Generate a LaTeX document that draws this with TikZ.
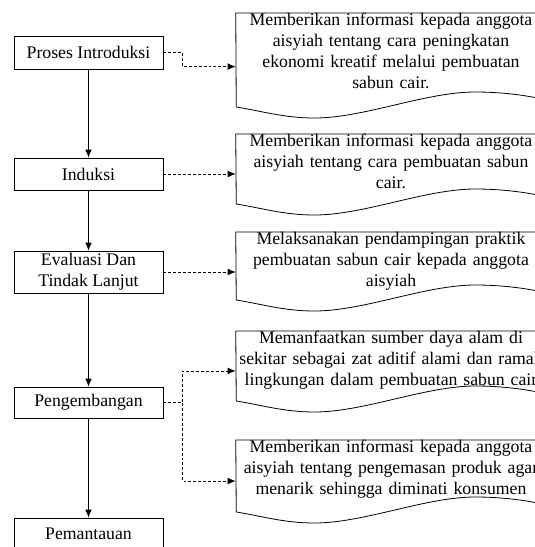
\documentclass[tikz,border=0pt]{standalone}
\usepackage{fontspec}
\setmainfont{Liberation Serif}
\usetikzlibrary{arrows.meta}

\begin{document}
\begin{tikzpicture}[x=0.75pt,y=-0.75pt,
  font=\fontsize{13.3}{15.75}\selectfont,
  stage/.style={draw,line width=0.6pt,minimum width=111.75pt,minimum height=24pt,inner sep=1pt,align=center},
  doc/.style={text width=232.5pt,inner sep=0pt,align=center,anchor=north},
  flow/.style={line width=0.6pt,-{Latex[length=6pt,width=5pt]}},
  link/.style={flow,dash pattern=on 2.2pt off 1.5pt}]
 \useasboundingbox (0,0) rectangle (535,547);
 \clip (0,0) rectangle (535,547);
 % tahapan
 \node[stage,minimum height=24.75pt] (p1) at (88.5,52.5) {Proses Introduksi};
 \node[stage] (p2) at (88.5,174) {Induksi};
 \node[stage,minimum height=31.5pt] (p3) at (88.5,272) {Evaluasi Dan\\Tindak Lanjut};
 \node[stage,minimum height=23.25pt] (p4) at (88.5,402.5) {Pengembangan};
 \node[stage] (p5) at (88.5,534) {Pemantauan};
 % keterangan
 \node[doc] (d1) at (391,13) {Memberikan informasi kepada anggota\\aisyiah tentang cara peningkatan\\ekonomi kreatif melalui pembuatan\\sabun cair.};
 \node[doc] (d2) at (391,134) {Memberikan informasi kepada anggota\\aisyiah tentang cara pembuatan sabun\\cair.};
 \node[doc] (d3) at (391,232) {Melaksanakan pendampingan praktik\\pembuatan sabun cair kepada anggota\\aisyiah};
 \node[doc] (d4) at (391,331) {Memanfaatkan sumber daya alam di\\sekitar sebagai zat aditif alami dan ramah\\lingkungan dalam pembuatan sabun cair};
 \node[doc] (d5) at (391,440) {Memberikan informasi kepada anggota\\aisyiah tentang pengemasan produk agar\\menarik sehingga diminati konsumen};
 \foreach \n/\h in {d1/94,d2/70,d3/68,d4/70,d5/72}
 {
  \draw[line width=0.6pt] (\n.north west) -- (\n.north east) -- ++(0,\h-7)
   .. controls +(-20,-5) and +(25,0) .. ++(-71,-8)
   .. controls +(-50,0) and +(50,0) .. ++(-161,26)
   .. controls +(-30,0) and +(25,4) .. ++(-78,-11) -- cycle;
  \path (\n.north west) ++(0,\h*0.57) coordinate (\n-in);
 }
 % alur
 \foreach \a/\b in {p1/p2,p2/p3,p3/p4,p4/p5}
  \draw[flow] (\a) -- (\b);
 \draw[link] (p1.east) -- ++(19,0) |- (d1-in);
 \draw[link] (p2.east) -- (p2.east -| d2-in);
 \draw[link] (p3.east) -- (p3.east -| d3-in);
 \draw[link] (p4.east) -- ++(19,0) |- (d4-in);
 \draw[link] (p4.east) -- ++(19,0) |- (d5-in);
\end{tikzpicture}
\end{document}
